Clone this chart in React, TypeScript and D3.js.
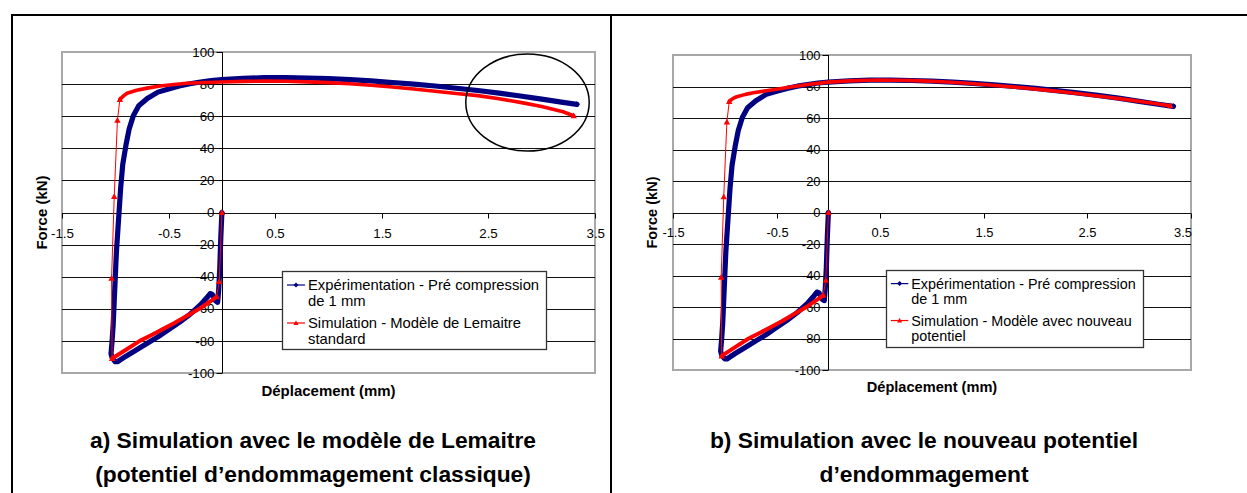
import React from "react";
import * as d3 from "d3";

type Pt = [number, number];

const xTickValues = [-1.5, -0.5, 0.5, 1.5, 2.5, 3.5];
const xTickLabels = ["-1.5", "-0.5", "0.5", "1.5", "2.5", "3.5"];
const yTickValues = [-100, -80, -60, -40, -20, 0, 20, 40, 60, 80, 100];
const yTickLabels = ["-100", "-80", "-60", "-40", "-20", "0", "20", "40", "60", "80", "100"];

const xTitle = "Déplacement (mm)";
const yTitle = "Force (kN)";
const expLabel = ["Expérimentation - Pré compression", "de 1 mm"];
const simLabelA = ["Simulation - Modèle de Lemaitre", "standard"];
const simLabelB = ["Simulation - Modèle avec nouveau", "potentiel"];
const captionA = ["a) Simulation avec le modèle de Lemaitre", "(potentiel d’endommagement classique)"];
const captionB = ["b) Simulation avec le nouveau potentiel", "d’endommagement"];

// Experimental curve (dense markers)
const experimentation: Pt[] = [
  [0, 0], [-0.01, -15], [-0.02, -35], [-0.03, -48], [-0.04, -56], [-0.06, -55],
  [-0.09, -51], [-0.11, -50.5], [-0.14, -53], [-0.2, -57.5], [-0.3, -63.5],
  [-0.4, -68.5], [-0.5, -73], [-0.6, -77.5], [-0.7, -81.5], [-0.8, -85.5],
  [-0.9, -89.5], [-0.98, -93], [-1.0, -93], [-1.03, -90.5], [-1.04, -88],
  [-1.03, -80], [-1.02, -70], [-1.01, -55], [-1.0, -40], [-0.99, -25],
  [-0.975, -10], [-0.965, 0], [-0.95, 15], [-0.93, 30], [-0.9, 42], [-0.87, 52],
  [-0.83, 60.5], [-0.78, 66.5], [-0.7, 71], [-0.6, 75], [-0.5, 77], [-0.4, 78.8],
  [-0.3, 80.2], [-0.2, 81.3], [-0.1, 82.2], [0, 82.8], [0.2, 83.6], [0.4, 84],
  [0.6, 84], [0.8, 83.8], [1.0, 83.4], [1.2, 82.8], [1.4, 82], [1.6, 81],
  [1.8, 80], [2.0, 78.8], [2.2, 77.4], [2.4, 76], [2.6, 74.4], [2.8, 72.6],
  [3.0, 70.6], [3.2, 68.6], [3.33, 67.4],
];

// Simulation: sparse elastic start
const simElastic: Pt[] = [[0, 0], [-0.025, -43], [-0.05, -52.5]];
// Simulation: dense compression branch
const simCompression: Pt[] = [
  [-0.05, -52.5], [-0.1, -55], [-0.2, -59.5], [-0.33, -64.5], [-0.45, -69],
  [-0.55, -72.5], [-0.65, -76], [-0.77, -80], [-0.9, -85.5], [-1.03, -91],
];
// Simulation: sparse reloading
const simReload: Pt[] = [[-1.03, -91], [-1.035, -41], [-1.01, 10], [-0.98, 57.5], [-0.957, 70.5]];
// Simulation: dense tension branch, Lemaitre standard
const simTensionLemaitre: Pt[] = [
  [-0.957, 70.5], [-0.92, 72.8], [-0.89, 74.3], [-0.8, 76.2], [-0.7, 77.5],
  [-0.58, 78.8], [-0.45, 79.8], [-0.33, 80.5], [-0.15, 81], [0, 81.3],
  [0.2, 81.7], [0.4, 81.9], [0.6, 81.8], [0.8, 81.4], [1.0, 80.9], [1.2, 80.2],
  [1.4, 79.3], [1.6, 78.2], [1.8, 76.9], [2.0, 75.5], [2.2, 74.1], [2.4, 72.8],
  [2.6, 70.9], [2.8, 68.6], [3.0, 66], [3.2, 62.8], [3.3, 60.3],
];
// Simulation: dense tension branch, new potential
const simTensionNouveau: Pt[] = [
  [-0.957, 70.5], [-0.92, 72.5], [-0.885, 73.5], [-0.8, 75], [-0.725, 76],
  [-0.6, 77.3], [-0.5, 78.2], [-0.35, 79.8], [-0.18, 81.4], [0, 82.8],
  [0.2, 83.6], [0.47, 84.1], [0.7, 84], [0.9, 83.6], [1.1, 83], [1.3, 82.2],
  [1.5, 81.3], [1.7, 80.2], [1.9, 79], [2.1, 77.7], [2.3, 76.3], [2.5, 74.8],
  [2.7, 73.2], [2.9, 71.5], [3.1, 69.7], [3.3, 67.8],
];

const FONT = "'Liberation Sans', Arial, Helvetica, sans-serif";
const BLUE = "#000080";
const RED = "#ff0000";

type Frame = { x0: number; x1: number; y0: number; y1: number };

function diamond(cx: number, cy: number, r: number) {
  return `M${cx},${cy - r}L${cx + r},${cy}L${cx},${cy + r}L${cx - r},${cy}Z`;
}
function triangle(cx: number, cy: number, r: number) {
  return `M${cx},${cy - r}L${cx + r},${cy + r * 0.8}L${cx - r},${cy + r * 0.8}Z`;
}

function Panel(props: {
  f: Frame;
  k: number;
  tension: Pt[];
  simLabel: string[];
  legend: { x: number; y: number; w: number; h: number };
  yTitleX: number;
  xTitleY: number;
  chartRight: number;
  ellipse?: { cx: number; cy: number; rx: number; ry: number };
}) {
  const { f, k, tension, simLabel, legend, yTitleX, xTitleY, chartRight, ellipse } = props;
  const x = d3.scaleLinear().domain([-1.5, 3.5]).range([f.x0, f.x1]);
  const y = d3.scaleLinear().domain([-100, 100]).range([f.y1, f.y0]);
  const line = d3.line<Pt>().x((d) => x(d[0])).y((d) => y(d[1]));
  const ax = Math.round(x(0)) + 0.5;
  const ay = Math.round(y(0)) + 0.5;
  const tickFs = 13.3 * k;
  const titleFs = 15 * k;
  const legFs = 14.8 * k;
  const simAll: Pt[] = [...simElastic, ...simCompression.slice(1), ...simReload.slice(1), ...tension.slice(1)];
  const sparseMarkers: Pt[] = [...simElastic, ...simReload, tension[tension.length - 1]];
  return (
    <g>
      <rect x={f.x0} y={f.y0} width={f.x1 - f.x0} height={f.y1 - f.y0} fill="#fff" stroke="#a8a8a8" strokeWidth={2} />
      {yTickValues.filter((v) => v !== 100 && v !== -100).map((v) => (
        <line key={"g" + v} x1={f.x0} x2={f.x1} y1={Math.round(y(v)) + 0.5} y2={Math.round(y(v)) + 0.5} stroke="#111" strokeWidth={1} />
      ))}
      <line x1={ax} x2={ax} y1={f.y0} y2={f.y1} stroke="#000" strokeWidth={1} />
      {yTickValues.map((v, i) => (
        <g key={"yt" + v}>
          <line x1={ax - 6} x2={ax} y1={Math.round(y(v)) + 0.5} y2={Math.round(y(v)) + 0.5} stroke="#000" />
          <text x={ax - 8} y={y(v)} dy="0.35em" textAnchor="end" fontSize={tickFs} fontFamily={FONT} fill="#000">
            {yTickLabels[i]}
          </text>
        </g>
      ))}
      {xTickValues.map((v, i) => {
        const px = Math.round(x(v)) + 0.5;
        const estW = xTickLabels[i].length * tickFs * 0.5;
        const clamp = px + estW / 2 > chartRight;
        return (
          <g key={"xt" + v}>
            <line x1={px} x2={px} y1={ay} y2={ay + 5} stroke="#000" />
            <text x={clamp ? chartRight : px} y={ay + 24 * k} textAnchor={clamp ? "end" : "middle"} fontSize={tickFs} fontFamily={FONT} fill="#000">
              {xTickLabels[i]}
            </text>
          </g>
        );
      })}
      <text transform={`translate(${yTitleX},${y(0)}) rotate(-90)`} textAnchor="middle" dy="0.35em" fontSize={titleFs} fontWeight="bold" fontFamily={FONT}>
        {yTitle}
      </text>
      <text x={(f.x0 + f.x1) / 2} y={xTitleY} textAnchor="middle" fontSize={titleFs} fontWeight="bold" fontFamily={FONT}>
        {xTitle}
      </text>

      {/* experimental series */}
      <path d={line(experimentation) || ""} fill="none" stroke={BLUE} strokeWidth={5.2} strokeLinejoin="round" strokeLinecap="round" />
      <path d={diamond(x(0), y(0), 3)} fill={BLUE} />
      <path d={diamond(x(3.33), y(67.4), 3)} fill={BLUE} />

      {/* simulation series */}
      <path d={line(simAll) || ""} fill="none" stroke={RED} strokeWidth={1} />
      <path d={line(simCompression) || ""} fill="none" stroke={RED} strokeWidth={4} strokeLinejoin="round" strokeLinecap="round" />
      <path d={line(tension) || ""} fill="none" stroke={RED} strokeWidth={3.6} strokeLinejoin="round" strokeLinecap="round" />
      {sparseMarkers.map((d, i) => (
        <path key={"m" + i} d={triangle(x(d[0]), y(d[1]), 3.2)} fill={RED} />
      ))}

      {ellipse && (
        <ellipse cx={ellipse.cx} cy={ellipse.cy} rx={ellipse.rx} ry={ellipse.ry} fill="none" stroke="#000" strokeWidth={1.5} />
      )}

      {/* legend */}
      <rect x={legend.x + 0.5} y={legend.y + 0.5} width={legend.w} height={legend.h} fill="#fff" stroke="#333" strokeWidth={1.3} />
      {[
        { c: BLUE, lab: expLabel, cy: legend.y + 14 * k, mk: "d" },
        { c: RED, lab: simLabel, cy: legend.y + 52 * k, mk: "t" },
      ].map((e, i) => (
        <g key={"lg" + i}>
          <line x1={legend.x + 5 * k} x2={legend.x + 23 * k} y1={e.cy} y2={e.cy} stroke={e.c} strokeWidth={1.2} />
          <path d={e.mk === "d" ? diamond(legend.x + 14 * k, e.cy, 2.5) : triangle(legend.x + 14 * k, e.cy, 2.6)} fill={e.c} />
          {e.lab.map((t, j) => (
            <text key={j} x={legend.x + 26 * k} y={e.cy + j * 16 * k} dy="0.35em" fontSize={legFs} fontFamily={FONT} fill="#000">
              {t}
            </text>
          ))}
        </g>
      ))}
    </g>
  );
}

export default function App() {
  return (
    <div style={{ position: "fixed", left: 0, top: 0, width: 1247, height: 493, background: "#fff" }}>
      <svg width={1247} height={493} style={{ display: "block" }}>
        <rect width={1247} height={493} fill="#fff" />
        <Panel
          f={{ x0: 62, x1: 595, y0: 52, y1: 373 }}
          k={1}
          tension={simTensionLemaitre}
          simLabel={simLabelA}
          legend={{ x: 282, y: 271, w: 264, h: 78 }}
          yTitleX={41.5}
          xTitleY={396}
          chartRight={605}
          ellipse={{ cx: 527.5, cy: 102.5, rx: 61.7, ry: 48.5 }}
        />
        <Panel
          f={{ x0: 673, x1: 1191, y0: 55, y1: 370 }}
          k={0.972}
          tension={simTensionNouveau}
          simLabel={simLabelB}
          legend={{ x: 886, y: 270, w: 257, h: 77 }}
          yTitleX={652}
          xTitleY={392}
          chartRight={1192}
        />
        {/* table borders */}
        <line x1={11} x2={1247} y1={15} y2={15} stroke="#000" strokeWidth={2} />
        <line x1={12} x2={12} y1={14} y2={493} stroke="#000" strokeWidth={2} />
        <line x1={611} x2={611} y1={14} y2={493} stroke="#000" strokeWidth={2} />
        {/* captions */}
        {[{ cx: 313, lines: captionA }, { cx: 924, lines: captionB }].map((c, i) => (
          <g key={"cap" + i}>
            {c.lines.map((t, j) => (
              <text key={j} x={c.cx} y={448 + j * 34} textAnchor="middle" fontSize={22.8} fontWeight="bold" fontFamily={FONT} fill="#000">
                {t}
              </text>
            ))}
          </g>
        ))}
      </svg>
    </div>
  );
}
